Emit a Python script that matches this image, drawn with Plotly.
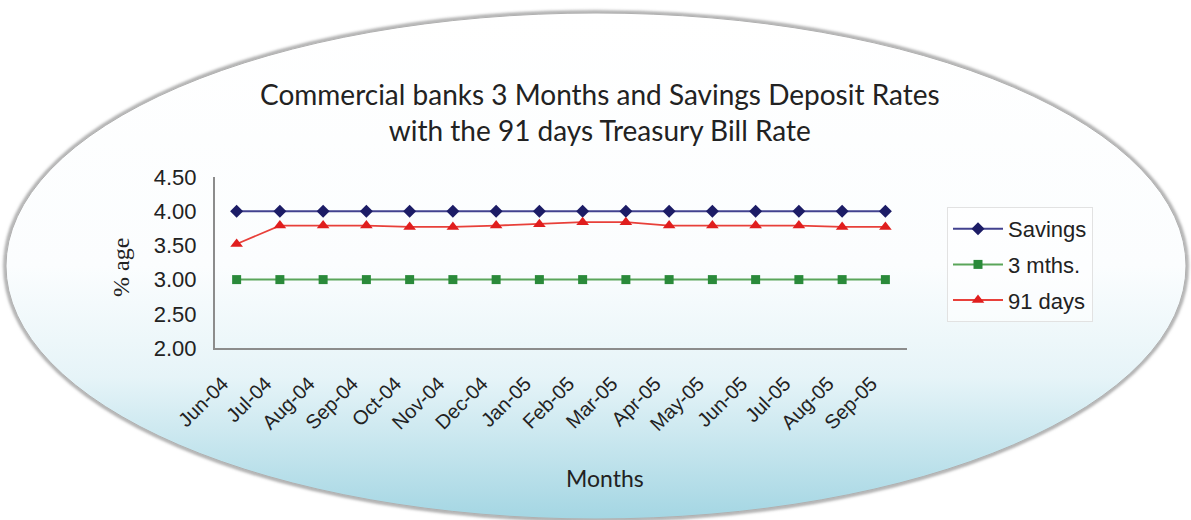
import base64
import plotly.graph_objects as go

months = ["Jun-04", "Jul-04", "Aug-04", "Sep-04", "Oct-04", "Nov-04", "Dec-04", "Jan-05",
          "Feb-05", "Mar-05", "Apr-05", "May-05", "Jun-05", "Jul-05", "Aug-05", "Sep-05"]
savings = [4.00] * 16
three_mths = [3.00] * 16
days91 = [3.52, 3.79, 3.79, 3.79, 3.77, 3.77, 3.79, 3.81, 3.84, 3.84, 3.79, 3.79, 3.79, 3.79, 3.77, 3.77]
y_ticks = [2.0, 2.5, 3.0, 3.5, 4.0, 4.5]

W, H = 1191, 520
ML, MR, MT, MB = 215, 284, 177, 172
PW, PH = W - ML - MR, H - MT - MB

svg = f'''<svg xmlns="http://www.w3.org/2000/svg" width="{W}" height="{H}" viewBox="0 0 {W} {H}">
<defs>
<linearGradient id="g" x1="0" y1="0" x2="0" y2="1">
<stop offset="0" stop-color="#ffffff"/>
<stop offset="0.5" stop-color="#fbfdfe"/>
<stop offset="0.72" stop-color="#e6f4f8"/>
<stop offset="1" stop-color="#a4d6e3"/>
</linearGradient>
<filter id="s" x="-5%" y="-5%" width="110%" height="110%"><feGaussianBlur stdDeviation="1.5"/></filter>
</defs>
<ellipse cx="596" cy="266" rx="591" ry="254" fill="none" stroke="#9a9a9a" stroke-width="3" filter="url(#s)"/>
<ellipse cx="596" cy="266" rx="590" ry="253" fill="url(#g)" stroke="#b0b0b0" stroke-width="1"/>
</svg>'''
src = "data:image/svg+xml;base64," + base64.b64encode(svg.encode()).decode()

fig = go.Figure()
fig.add_trace(go.Scatter(x=months, y=savings, name="Savings", mode="lines+markers",
                         line=dict(color="#42428f", width=2),
                         marker=dict(symbol="diamond", size=10, color="#1c1c66"),
                         legendgroup="a"))
fig.add_trace(go.Scatter(x=months, y=three_mths, name="3 mths.", mode="lines+markers",
                         line=dict(color="#5aa55a", width=2),
                         marker=dict(symbol="square", size=9, color="#2a8a3a"),
                         legendgroup="b"))
fig.add_trace(go.Scatter(x=months, y=days91, name="91 days", mode="lines+markers",
                         line=dict(color="#e8403a", width=1.8),
                         marker=dict(symbol="triangle-up", size=11, color="#e01e1e"),
                         legendgroup="c"))

fig.add_layout_image(dict(source=src, xref="paper", yref="paper",
                          x=-ML / PW, y=1 + MT / PH, sizex=W / PW, sizey=H / PH,
                          xanchor="left", yanchor="top", sizing="stretch", layer="below"))

fig.update_layout(
    width=W, height=H,
    margin=dict(l=ML, r=MR, t=MT, b=MB),
    paper_bgcolor="white", plot_bgcolor="rgba(0,0,0,0)",
    showlegend=True,
    legend=dict(x=(947 - ML) / PW, y=1 - (207 - MT) / PH, xanchor="left", yanchor="top",
                bgcolor="rgba(255,255,255,0.6)", bordercolor="#e2e2e2", borderwidth=1,
                font=dict(family="Liberation Sans, Arial", size=22, color="#222"),
                traceorder="grouped", tracegroupgap=4, itemwidth=50),
    xaxis=dict(type="category", range=[-0.5, 15.5], showgrid=False, showline=True,
               linecolor="#8c8c8c", linewidth=2, ticks="", tickangle=-45,
               ticklabelshift=-14, ticklabelstandoff=14,
               tickfont=dict(family="Liberation Sans, Arial", size=20, color="#222"),
               zeroline=False, fixedrange=True),
    yaxis=dict(range=[2.0, 4.5], tickvals=y_ticks, tickformat=".2f", showgrid=False,
               showline=True, linecolor="#8c8c8c", linewidth=2, ticks="",
               ticklabelstandoff=12,
               tickfont=dict(family="Liberation Sans, Arial", size=22, color="#222"),
               zeroline=False, fixedrange=True),
    annotations=[
        dict(text="Commercial banks 3 Months and Savings Deposit Rates<br>with the 91 days Treasury Bill Rate",
             xref="paper", yref="paper", x=(600 - ML) / PW, y=1 + (177 - 112) / PH,
             xanchor="center", yanchor="middle", showarrow=False,
             font=dict(family="Lato, Open Sans", size=28, color="#222")),
        dict(text="% age", xref="paper", yref="paper", x=(121 - ML) / PW, y=1 - (268 - MT) / PH,
             xanchor="center", yanchor="middle", textangle=-90, showarrow=False,
             font=dict(family="Liberation Serif, Times New Roman", size=24, color="#222")),
        dict(text="Months", xref="paper", yref="paper", x=(605 - ML) / PW, y=1 - (478 - MT) / PH,
             xanchor="center", yanchor="middle", showarrow=False,
             font=dict(family="Lato, Open Sans", size=23, color="#222")),
    ],
)

fig.write_html("out.html")
